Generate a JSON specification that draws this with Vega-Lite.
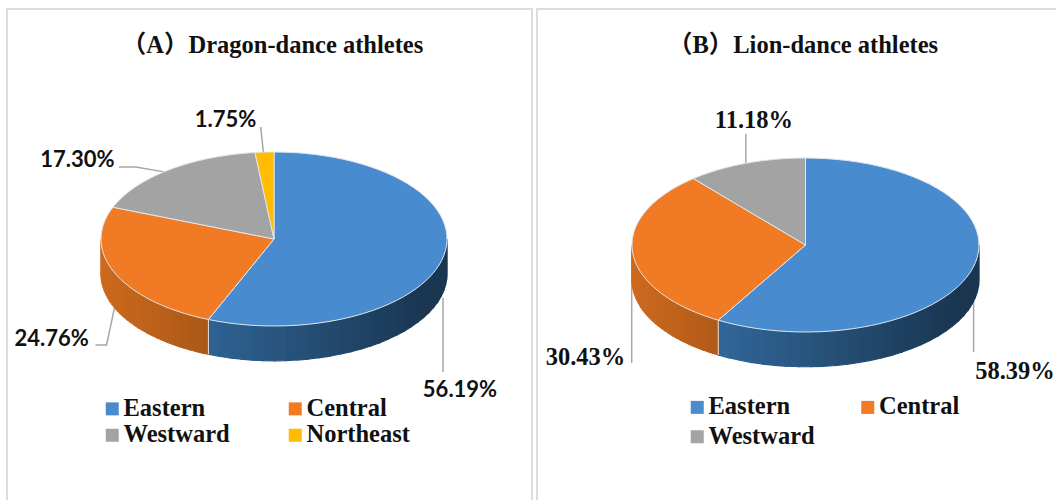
{
  "$schema": "https://vega.github.io/schema/vega-lite/v6.json",
  "background": "white",
  "padding": {"left": 6, "top": 8, "right": 0, "bottom": 0},
  "spacing": 3,
  "config": {"view": {"stroke": "#dcdcdc", "strokeWidth": 2}},
  "resolve": {"scale": {"fill": "independent"}, "legend": {"fill": "independent"}},
  "datasets": {
    "regions": [
      {"sport": "Dragon-dance", "region": "Eastern", "share": 56.19},
      {"sport": "Dragon-dance", "region": "Central", "share": 24.76},
      {"sport": "Dragon-dance", "region": "Westward", "share": 17.30},
      {"sport": "Dragon-dance", "region": "Northeast", "share": 1.75},
      {"sport": "Lion-dance", "region": "Eastern", "share": 58.39},
      {"sport": "Lion-dance", "region": "Central", "share": 30.43},
      {"sport": "Lion-dance", "region": "Westward", "share": 11.18}
    ]
  },
  "hconcat": [
    {
      "width": 525,
      "height": 500,
      "title": {"text": "（A）Dragon-dance athletes", "font": "Liberation Serif, Noto Sans CJK SC", "fontSize": 24.5, "fontWeight": "bold", "color": "#111111", "anchor": "middle", "baseline": "alphabetic", "offset": -68, "dx": 3},
      "data": {"name": "regions"},
      "transform": [
        {"filter": "datum.sport === 'Dragon-dance'"},
        {"stack": "share", "groupby": [], "as": ["s0", "s1"]},
        {"calculate": "2*PI*datum.s0/100", "as": "a0"},
        {"calculate": "2*PI*datum.s1/100", "as": "a1"}
      ],
      "encoding": {
        "x": {"field": "ex", "type": "quantitative", "axis": null, "scale": {"domain": [-1.5434, 1.4913], "nice": false, "zero": false}},
        "y": {"field": "ey", "type": "quantitative", "axis": null, "scale": {"domain": [-3.1034, 2.6437], "nice": false, "zero": false}}
      },
      "layer": [
        {
          "transform": [
            {"calculate": "{'Eastern':[[0.977,-1.529,0],[0.977,-0.678,1]],'Central':[[-1.032,-1.218,0],[-0.968,-1.218,1],[-0.923,-0.8,2]],'Westward':[[-0.896,0.828,0],[-0.798,0.828,1],[-0.604,0.76,2]],'Northeast':[[-0.077,1.287,0],[-0.058,0.931,1]]}[datum.region]", "as": "pt"},
            {"flatten": ["pt"]},
            {"calculate": "datum.pt[0]", "as": "ex"},
            {"calculate": "datum.pt[1]", "as": "ey"},
            {"calculate": "datum.pt[2]", "as": "seq"}
          ],
          "mark": {"type": "line", "stroke": "#a6a6a6", "strokeWidth": 1.5},
          "encoding": {"detail": {"field": "region"}, "order": {"field": "seq", "type": "quantitative"}}
        },
        {
          "transform": [
            {"filter": "datum.a1 > PI/2 && datum.a0 < 3*PI/2"},
            {"calculate": "max(datum.a0,PI/2)", "as": "t0"},
            {"calculate": "min(datum.a1,3*PI/2)", "as": "t1"},
            {"calculate": "sequence(0,30)", "as": "band"},
            {"flatten": ["band"]},
            {"calculate": "sequence(0,4)", "as": "corner"},
            {"flatten": ["corner"]},
            {"calculate": "datum.t0+(datum.t1-datum.t0)*(datum.band+(datum.corner==1||datum.corner==2?1:0))/30", "as": "th"},
            {"calculate": "sin(datum.th)", "as": "ex"},
            {"calculate": "cos(datum.th)-(datum.corner>=2?0.4:0)", "as": "ey"},
            {"calculate": "sin(datum.t0+(datum.t1-datum.t0)*(datum.band+0.5)/30)", "as": "mid"},
            {"calculate": "datum.region==='Eastern'?'hsl(209,52%,'+max(21,38-19*(datum.mid+0.38)/1.38)+'%)':'hsl(26,75%,'+(46-8*(datum.mid+1)/0.62)+'%)'", "as": "tone"},
            {"calculate": "datum.region+datum.band", "as": "facet"}
          ],
          "mark": {"type": "line", "interpolate": "linear-closed", "filled": true, "strokeWidth": 1.2},
          "encoding": {
            "detail": {"field": "facet"},
            "fill": {"field": "tone", "type": "nominal", "scale": null},
            "stroke": {"field": "tone", "type": "nominal", "scale": null},
            "order": {"field": "corner", "type": "quantitative"}
          }
        },
        {
          "transform": [
            {"filter": "datum.region === 'Eastern'"},
            {"calculate": "sin(datum.a1)", "as": "ex"},
            {"calculate": "cos(datum.a1)", "as": "ey"},
            {"calculate": "datum.ey-0.4", "as": "ey2"}
          ],
          "mark": {"type": "rule", "stroke": "#e4e4e4", "strokeWidth": 1},
          "encoding": {"y2": {"field": "ey2"}}
        },
        {
          "transform": [
            {"calculate": "sequence(0,62)", "as": "k"},
            {"flatten": ["k"]},
            {"calculate": "datum.a0+(datum.a1-datum.a0)*datum.k/60", "as": "th"},
            {"calculate": "datum.k>60?0:sin(datum.th)", "as": "ex"},
            {"calculate": "datum.k>60?0:cos(datum.th)", "as": "ey"}
          ],
          "mark": {"type": "line", "interpolate": "linear-closed", "stroke": "#dfe6ee", "strokeWidth": 1, "filled": true},
          "encoding": {
            "fill": {
              "field": "region",
              "type": "nominal",
              "scale": {"domain": ["Eastern", "Central", "Westward", "Northeast"], "range": ["#488ccf", "#f17b24", "#a3a3a3", "#ffbc00"]},
              "legend": {"title": null, "orient": "none", "direction": "horizontal", "legendX": 93, "legendY": 387.5, "columns": 2, "columnPadding": 53, "rowPadding": 1.5, "symbolType": "square", "symbolSize": 169, "symbolStrokeWidth": 0, "symbolOpacity": 1, "labelFont": "Liberation Serif", "labelFontSize": 24.5, "labelFontWeight": "bold", "labelColor": "#111111", "labelLimit": 200, "labelOffset": -1}
            },
            "order": {"field": "k", "type": "quantitative"}
          }
        },
        {
          "transform": [
            {"calculate": "{'Eastern':[1.0751,-1.816],'Central':[-1.285,-1.23],'Westward':[-1.136,0.828],'Northeast':[-0.28,1.287]}[datum.region]", "as": "pos"},
            {"calculate": "datum.pos[0]", "as": "ex"},
            {"calculate": "datum.pos[1]", "as": "ey"},
            {"calculate": "format(datum.share,'.2f')+'%'", "as": "label"}
          ],
          "mark": {"type": "text", "font": "Lato", "fontWeight": "bold", "fontSize": 22, "baseline": "alphabetic", "align": "center", "color": "#111111"},
          "encoding": {"text": {"field": "label"}}
        }
      ]
    },
    {
      "width": 530,
      "height": 500,
      "title": {"text": "（B）Lion-dance athletes", "font": "Liberation Serif, Noto Sans CJK SC", "fontSize": 24.5, "fontWeight": "bold", "color": "#111111", "anchor": "middle", "baseline": "alphabetic", "offset": -68, "dx": 1},
      "data": {"name": "regions"},
      "transform": [
        {"filter": "datum.sport === 'Lion-dance'"},
        {"stack": "share", "groupby": [], "as": ["s0", "s1"]},
        {"calculate": "2*PI*datum.s0/100", "as": "a0"},
        {"calculate": "2*PI*datum.s1/100", "as": "a1"}
      ],
      "encoding": {
        "x": {"field": "ex", "type": "quantitative", "axis": null, "scale": {"domain": [-1.5476, 1.5072], "nice": false, "zero": false}},
        "y": {"field": "ey", "type": "quantitative", "axis": null, "scale": {"domain": [-3.0345, 2.7126], "nice": false, "zero": false}}
      },
      "layer": [
        {
          "transform": [
            {"calculate": "{'Eastern':[[0.969,-1.23,0],[0.969,-0.517,1]],'Central':[[-1.0017,-1.356,0],[-1.0017,-0.057,1]],'Westward':[[-0.344,1.276,0],[-0.344,0.862,1]]}[datum.region]", "as": "pt"},
            {"flatten": ["pt"]},
            {"calculate": "datum.pt[0]", "as": "ex"},
            {"calculate": "datum.pt[1]", "as": "ey"},
            {"calculate": "datum.pt[2]", "as": "seq"}
          ],
          "mark": {"type": "line", "stroke": "#a6a6a6", "strokeWidth": 1.5},
          "encoding": {"detail": {"field": "region"}, "order": {"field": "seq", "type": "quantitative"}}
        },
        {
          "transform": [
            {"filter": "datum.a1 > PI/2 && datum.a0 < 3*PI/2"},
            {"calculate": "max(datum.a0,PI/2)", "as": "t0"},
            {"calculate": "min(datum.a1,3*PI/2)", "as": "t1"},
            {"calculate": "sequence(0,30)", "as": "band"},
            {"flatten": ["band"]},
            {"calculate": "sequence(0,4)", "as": "corner"},
            {"flatten": ["corner"]},
            {"calculate": "datum.t0+(datum.t1-datum.t0)*(datum.band+(datum.corner==1||datum.corner==2?1:0))/30", "as": "th"},
            {"calculate": "sin(datum.th)", "as": "ex"},
            {"calculate": "cos(datum.th)-(datum.corner>=2?0.4:0)", "as": "ey"},
            {"calculate": "sin(datum.t0+(datum.t1-datum.t0)*(datum.band+0.5)/30)", "as": "mid"},
            {"calculate": "datum.region==='Eastern'?'hsl(209,52%,'+max(21,38-19*(datum.mid+0.38)/1.38)+'%)':'hsl(26,75%,'+(46-8*(datum.mid+1)/0.62)+'%)'", "as": "tone"},
            {"calculate": "datum.region+datum.band", "as": "facet"}
          ],
          "mark": {"type": "line", "interpolate": "linear-closed", "filled": true, "strokeWidth": 1.2},
          "encoding": {
            "detail": {"field": "facet"},
            "fill": {"field": "tone", "type": "nominal", "scale": null},
            "stroke": {"field": "tone", "type": "nominal", "scale": null},
            "order": {"field": "corner", "type": "quantitative"}
          }
        },
        {
          "transform": [
            {"filter": "datum.region === 'Eastern'"},
            {"calculate": "sin(datum.a1)", "as": "ex"},
            {"calculate": "cos(datum.a1)", "as": "ey"},
            {"calculate": "datum.ey-0.4", "as": "ey2"}
          ],
          "mark": {"type": "rule", "stroke": "#e4e4e4", "strokeWidth": 1},
          "encoding": {"y2": {"field": "ey2"}}
        },
        {
          "transform": [
            {"calculate": "sequence(0,62)", "as": "k"},
            {"flatten": ["k"]},
            {"calculate": "datum.a0+(datum.a1-datum.a0)*datum.k/60", "as": "th"},
            {"calculate": "datum.k>60?0:sin(datum.th)", "as": "ex"},
            {"calculate": "datum.k>60?0:cos(datum.th)", "as": "ey"}
          ],
          "mark": {"type": "line", "interpolate": "linear-closed", "stroke": "#dfe6ee", "strokeWidth": 1, "filled": true},
          "encoding": {
            "fill": {
              "field": "region",
              "type": "nominal",
              "scale": {"domain": ["Eastern", "Central", "Westward"], "range": ["#488ccf", "#f17b24", "#a3a3a3"]},
              "legend": {"title": null, "orient": "none", "direction": "horizontal", "legendX": 148, "legendY": 386, "columns": 2, "columnPadding": 40.5, "rowPadding": 4.5, "symbolType": "square", "symbolSize": 169, "symbolStrokeWidth": 0, "symbolOpacity": 1, "labelFont": "Liberation Serif", "labelFontSize": 24.5, "labelFontWeight": "bold", "labelColor": "#111111", "labelLimit": 200, "labelOffset": -1}
            },
            "order": {"field": "k", "type": "quantitative"}
          }
        },
        {
          "transform": [
            {"calculate": "{'Eastern':[1.2075,-1.546],'Central':[-1.268,-1.379],'Westward':[-0.297,1.35]}[datum.region]", "as": "pos"},
            {"calculate": "datum.pos[0]", "as": "ex"},
            {"calculate": "datum.pos[1]", "as": "ey"},
            {"calculate": "format(datum.share,'.2f')+'%'", "as": "label"}
          ],
          "mark": {"type": "text", "font": "Liberation Serif", "fontWeight": "bold", "fontSize": 24.5, "baseline": "alphabetic", "align": "center", "color": "#111111"},
          "encoding": {"text": {"field": "label"}}
        }
      ]
    }
  ]
}
